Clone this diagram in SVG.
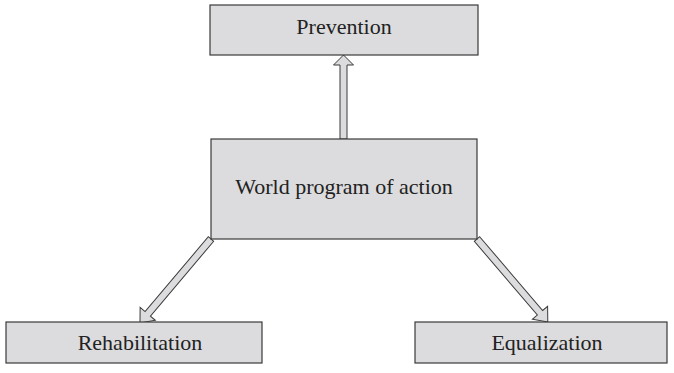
<svg xmlns="http://www.w3.org/2000/svg" width="674" height="373" viewBox="0 0 674 373">
<style>
.box{fill:#dcdcde;stroke:#3a3a3a;stroke-width:1.2}
.lbl{font-family:"Liberation Serif",serif;font-size:22px;fill:#222;text-anchor:middle}
.arr{fill:#dcdcde;stroke:#3a3a3a;stroke-width:1;stroke-linejoin:miter}
</style>
<rect width="674" height="373" fill="#fff"/>
<g id="connectors">
<polygon class="arr" transform="translate(343.5,139) rotate(-90)" points="0,-3.5 74,-3.5 74,-10 84,0 74,10 74,3.5 0,3.5"/>
<polygon class="arr" transform="translate(211,239) rotate(130.2)" points="0,-3.5 98,-3.5 98,-10 110,0 98,10 98,3.5 0,3.5"/>
<polygon class="arr" transform="translate(477,239) rotate(49.5)" points="0,-3.5 97,-3.5 97,-10 109,0 97,10 97,3.5 0,3.5"/>
</g>
<g id="prevention">
<rect class="box" x="210" y="5" width="268" height="50"/>
<text class="lbl" x="344" y="34">Prevention</text>
</g>
<g id="world">
<rect class="box" x="211" y="139" width="266" height="100"/>
<text class="lbl" x="344" y="194">World program of action</text>
</g>
<g id="rehabilitation">
<rect class="box" x="6" y="322" width="256" height="41"/>
<text class="lbl" x="140" y="350">Rehabilitation</text>
</g>
<g id="equalization">
<rect class="box" x="415" y="322" width="252" height="41"/>
<text class="lbl" x="547" y="350">Equalization</text>
</g>
</svg>
